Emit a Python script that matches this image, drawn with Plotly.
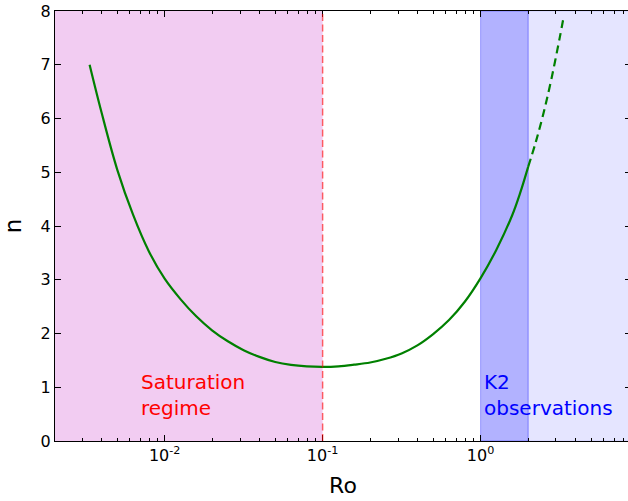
import plotly.graph_objects as go

# ---- data ----
ro_solid = [0.00335, 0.00398, 0.00501, 0.00631, 0.00794, 0.0100, 0.01259, 0.01585,
            0.01995, 0.02512, 0.03162, 0.03981, 0.05012, 0.0631, 0.07943, 0.100,
            0.126, 0.158, 0.200, 0.251, 0.316, 0.398, 0.501, 0.631, 0.794,
            1.00, 1.259, 1.585, 1.778, 2.0]
n_solid = [7.00, 6.12, 5.05, 4.21, 3.53, 3.02, 2.64, 2.32,
           2.06, 1.855, 1.69, 1.565, 1.47, 1.415, 1.388, 1.38,
           1.39, 1.42, 1.46, 1.53, 1.63, 1.78, 1.99, 2.25, 2.59,
           3.03, 3.56, 4.20, 4.61, 5.10]

ro_dashed = [2.0, 2.239, 2.512, 2.818, 3.162, 3.35]
n_dashed = [5.10, 5.57, 6.12, 6.76, 7.49, 7.88]

saturation_limit = 0.1
k2_range = [1.0, 2.0]

x_ticks = [0.01, 0.1, 1.0]
x_tick_labels = ["10<sup>-2</sup>", "10<sup>-1</sup>", "10<sup>0</sup>"]
y_ticks = [0, 1, 2, 3, 4, 5, 6, 7, 8]

sat_text = ["Saturation", "regime"]
k2_text = ["K2", "observations"]

# ---- figure ----
log_lo, log_hi = -2.694, 0.952
x_lo, x_hi = 10 ** log_lo, 10 ** log_hi
minor_vals = [m * 10 ** e for e in range(-3, 1) for m in range(2, 10)]

fig = go.Figure()

fig.add_trace(go.Scatter(x=ro_solid, y=n_solid, mode="lines",
                         line=dict(color="rgb(0,128,0)", width=2.2, shape="spline", smoothing=1.0),
                         showlegend=False, hoverinfo="skip"))
fig.add_trace(go.Scatter(x=ro_dashed, y=n_dashed, mode="lines",
                         line=dict(color="rgb(0,128,0)", width=2.2, dash="8px,5px",
                                   shape="spline", smoothing=1.0),
                         showlegend=False, hoverinfo="skip"))

shapes = [
    dict(type="rect", xref="x", yref="paper", x0=x_lo, x1=saturation_limit, y0=0, y1=1,
         fillcolor="rgba(191,0,191,0.2)", line=dict(width=0), layer="below"),
    dict(type="rect", xref="x", yref="paper", x0=k2_range[0], x1=k2_range[1], y0=0, y1=1,
         fillcolor="rgba(0,0,255,0.3)", line=dict(width=1, color="rgba(0,0,255,0.3)"), layer="below"),
    dict(type="rect", xref="x", yref="paper", x0=k2_range[1], x1=x_hi * 1.2, y0=0, y1=1,
         fillcolor="rgba(0,0,255,0.1)", line=dict(width=1, color="rgba(0,0,255,0.1)"), layer="below"),
    dict(type="line", xref="x", yref="paper", x0=saturation_limit, x1=saturation_limit, y0=0, y1=1,
         line=dict(color="rgba(255,0,0,0.6)", width=1.5, dash="7px,3.5px"), layer="above"),
]

font_txt = "DejaVu Sans"
annotations = []
for txt, yv in zip(sat_text, [1.10, 0.62]):
    annotations.append(dict(x=-2.165, y=yv, xref="x", yref="y", text=txt, showarrow=False,
                            xanchor="left", yanchor="middle",
                            font=dict(family=font_txt, size=20, color="#FF0000")))
for txt, yv in zip(k2_text, [1.10, 0.62]):
    annotations.append(dict(x=0.008, y=yv, xref="x", yref="y", text=txt, showarrow=False,
                            xanchor="left", yanchor="middle",
                            font=dict(family=font_txt, size=20, color="#0000FF")))

fig.update_layout(
    width=631, height=501,
    margin=dict(l=55, r=0, t=11, b=59.5),
    paper_bgcolor="white", plot_bgcolor="white",
    font=dict(family=font_txt, size=16, color="black"),
    shapes=shapes, annotations=annotations,
    showlegend=False,
)

fig.update_xaxes(
    type="log", range=[log_lo, log_hi],
    tickmode="array", tickvals=x_ticks, ticktext=x_tick_labels,
    ticks="inside", ticklen=6, tickwidth=1, tickcolor="black",
    minor=dict(tickmode="array", tickvals=minor_vals, ticks="inside", ticklen=3,
               tickwidth=1, tickcolor="black", showgrid=False),
    showline=True, linecolor="black", linewidth=1, mirror="ticks",
    showgrid=False, zeroline=False,
    tickfont=dict(size=16),
    title=dict(text="Ro", font=dict(size=22), standoff=13),
)
fig.update_yaxes(
    range=[0, 8], tickmode="array", tickvals=y_ticks,
    ticks="inside", ticklen=6, tickwidth=1, tickcolor="black",
    showline=True, linecolor="black", linewidth=1, mirror="ticks",
    showgrid=False, zeroline=False,
    tickfont=dict(size=16),
    title=dict(text="n", font=dict(size=23), standoff=12),
)

fig.write_html(
    "out.html",
    config={"displayModeBar": False},
    post_script="document.body.style.margin='0';document.body.style.overflow='hidden';",
)
